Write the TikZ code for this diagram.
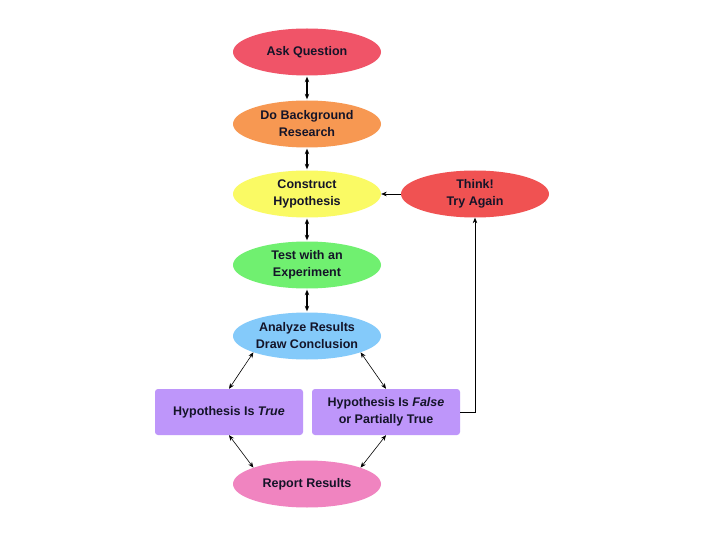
\documentclass[tikz,border=0pt]{standalone}
\usepackage{fontspec}
\setmainfont{Liberation Sans}
\usepackage{xcolor}
\usepackage{tikz}
\usetikzlibrary{shapes,arrows,arrows.meta,positioning}
\definecolor{askred}{RGB}{240, 84, 104}
\definecolor{researchorange}{RGB}{247, 152, 82}
\definecolor{hypoyellow}{RGB}{250, 250, 100}
\definecolor{thinkred}{RGB}{240, 82, 82}
\definecolor{testgreen}{RGB}{112, 240, 112}
\definecolor{analyzeblue}{RGB}{132, 202, 250}
\definecolor{resultpurple}{RGB}{190, 150, 250}
\definecolor{reportpink}{RGB}{240, 132, 192}
\definecolor{inkdark}{RGB}{20, 20, 40}

\begin{document}
\begin{tikzpicture}[x=1pt, y=-1pt, >={Stealth[length=5.5pt, width=4.5pt]},
        stepoval/.style={ellipse, minimum width=148pt, minimum height=47pt, inner sep=0pt,
            align=center, text=inkdark, font=\fontsize{12.5}{17}\selectfont\bfseries},
        outcome/.style={rectangle, rounded corners=3pt, minimum width=148pt, minimum height=46pt,
            inner sep=0pt, align=center, text=inkdark, font=\fontsize{12.5}{17}\selectfont\bfseries},
        link/.style={<->, line width=1.3pt, shorten <=1pt, shorten >=1pt},
        slink/.style={<->, line width=0.6pt}]
        \useasboundingbox[fill=white] (0, 0) rectangle (720, 540);

        % Main column
        \node[stepoval, fill=askred] (ask) at (307, 52) {Ask Question};
        \node[stepoval, fill=researchorange] (research) at (307, 124) {Do Background\\Research};
        \node[stepoval, fill=hypoyellow] (construct) at (307, 194) {Construct\\Hypothesis};
        \node[stepoval, fill=testgreen] (test) at (307, 265) {Test with an\\Experiment};
        \node[stepoval, fill=analyzeblue] (analyze) at (307, 336) {Analyze Results\\Draw Conclusion};
        \node[stepoval, fill=reportpink] (report) at (307, 484) {Report Results};

        % Side loop
        \node[stepoval, fill=thinkred] (think) at (475, 194) {Think!\\Try Again};

        % Outcomes
        \node[outcome, fill=resultpurple] (true) at (229, 412) {Hypothesis Is \textit{True}};
        \node[outcome, fill=resultpurple] (false) at (386, 412) {Hypothesis Is \textit{False}\\or Partially True};

        % Connectors
        \draw[link] (ask) -- (research);
        \draw[link] (research) -- (construct);
        \draw[link] (construct) -- (test);
        \draw[link] (test) -- (analyze);
        \draw[slink] (analyze.197) -- (true.north);
        \draw[slink] (analyze.343) -- (false.north);
        \draw[slink] (true.south) -- (report.163);
        \draw[slink] (false.south) -- (report.17);
        \draw[->, line width=0.6pt] (think.west) -- (construct.east);
        \coordinate (bend) at (475, 412);
        \draw[->, line width=0.6pt] (false.east) -- (bend) -- (think.south);
    \end{tikzpicture}
\end{document}
